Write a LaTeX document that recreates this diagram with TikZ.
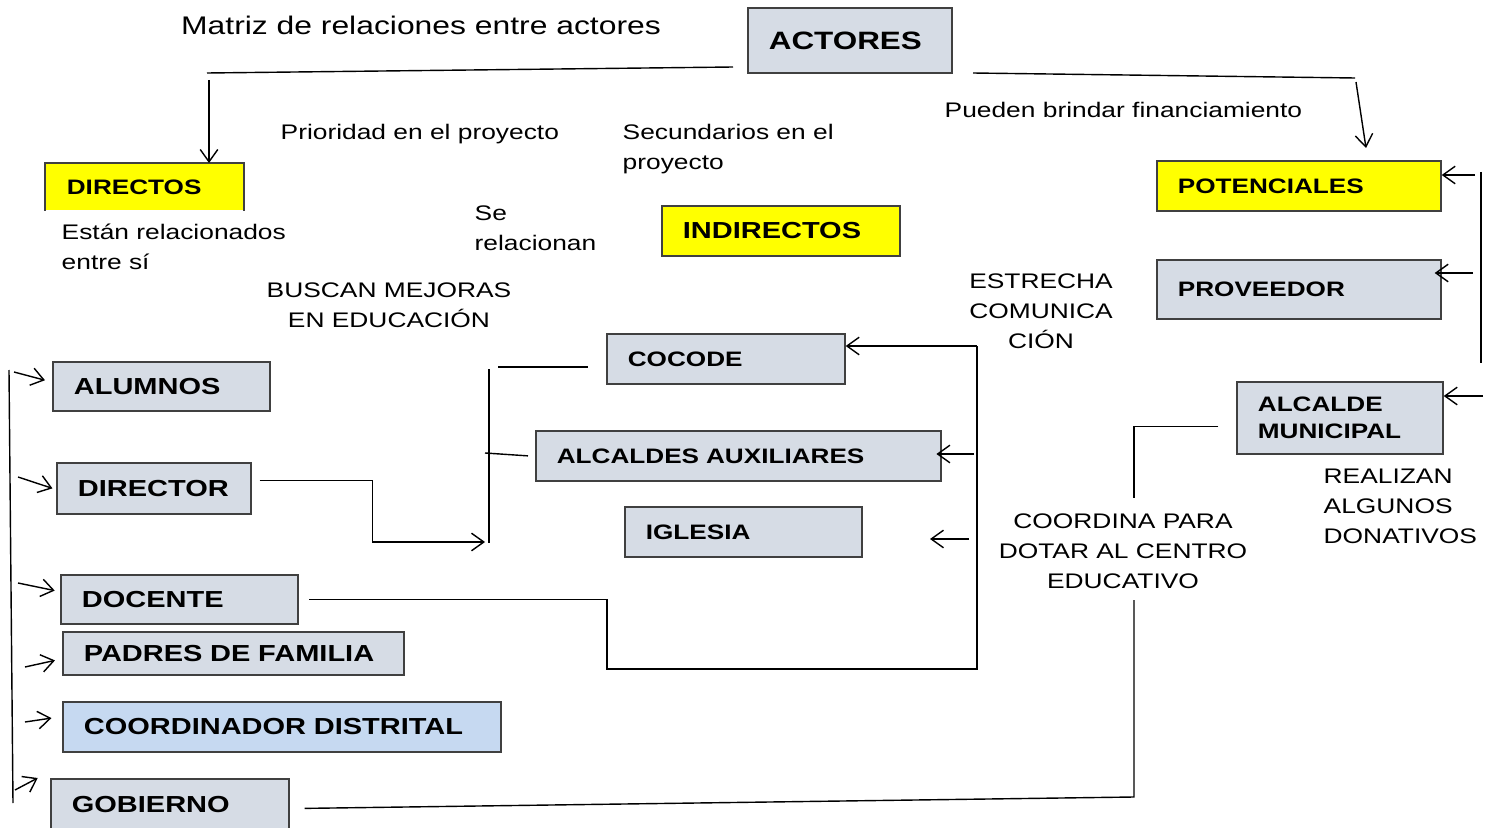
\documentclass[tikz,border=0pt]{standalone}
\usepackage{fontspec}
\setmainfont{Liberation Sans}[FakeStretch=1.25]
\usetikzlibrary{
  arrows.meta,
  positioning
}
\definecolor{boxfill}{HTML}{D6DCE5}
\definecolor{boxline}{HTML}{404040}
\definecolor{coordfill}{HTML}{C6D9F1}
\definecolor{yel}{HTML}{FFFF00}
\tikzset{
  >={Straight Barb[length=7pt,width=10pt]},
  actor/.style = {draw=boxline, fill=boxfill, line width=1pt, anchor=north west,
                  inner xsep=0.42cm, inner ysep=0pt, align=left,
                  font=\bfseries\fontsize{11.9}{15.3}\selectfont},
  bigactor/.style = {font=\bfseries\fontsize{13.2}{15.3}\selectfont},
  note/.style = {inner sep=0pt, font=\fontsize{12}{17}\selectfont},
}
\begin{document}
\begin{tikzpicture}[x=0.02cm, y=-0.02cm, line width=0.8pt]
\useasboundingbox (0,0) rectangle (1489,828);
\node[note, font=\fontsize{14.5}{17}\selectfont] (titulo) at (421,25) {Matriz de relaciones entre actores};

% cajas de arriba
\node[actor, text width=3.24cm, minimum height=1.30cm, font=\bfseries\fontsize{14.3}{17}\selectfont] (actores) at (747,7) {ACTORES};
\node[actor, fill=yel, draw=none, text width=3.10cm, minimum height=0.92cm] (directos) at (45,163) {DIRECTOS};
\draw[boxline, line width=1pt] (directos.south west) |- (directos.north east) -- (directos.south east);
\node[actor, fill=yel, bigactor, text width=3.92cm, minimum height=1cm] (indirectos) at (661,205) {INDIRECTOS};
\node[actor, fill=yel, text width=4.84cm, minimum height=1cm] (potenciales) at (1156,160) {POTENCIALES};
\node[actor, text width=4.84cm, minimum height=1.18cm] (proveedor) at (1156,259) {PROVEEDOR};
\node[actor, text width=3.28cm, minimum height=1.44cm] (alcalde) at (1236,381) {ALCALDE\\MUNICIPAL};

% indirectos
\node[actor, text width=3.92cm, minimum height=1cm] (cocode) at (606,333) {COCODE};
\node[actor, text width=7.26cm, minimum height=1cm] (auxiliares) at (535,430) {ALCALDES AUXILIARES};
\node[actor, text width=3.90cm, minimum height=1cm] (iglesia) at (624,506) {IGLESIA};

% directos
\node[actor, bigactor, text width=3.50cm, minimum height=0.98cm] (alumnos) at (52,361) {ALUMNOS};
\node[actor, bigactor, text width=3.04cm, minimum height=1.02cm] (director) at (56,462) {DIRECTOR};
\node[actor, bigactor, text width=3.90cm, minimum height=0.98cm] (docente) at (60,574) {DOCENTE};
\node[actor, bigactor, text width=5.98cm, minimum height=0.86cm] (padres) at (62,631) {PADRES DE FAMILIA};
\node[actor, bigactor, fill=coordfill, text width=7.92cm, minimum height=1cm] (coordinador) at (62,701) {COORDINADOR DISTRITAL};
\node[actor, bigactor, text width=3.92cm, minimum height=1.04cm] (gobierno) at (50,778) {GOBIERNO};

% textos
\node[note, anchor=west] (prioridad) at (280,134) {Prioridad en el proyecto};
\node[note, anchor=west, align=left] (secundarios) at (622,149) {Secundarios en el\\proyecto};
\node[note, anchor=west] (financia) at (944,110) {Pueden brindar financiamiento};
\node[note, anchor=west, align=left] (entresi) at (61,247) {Están relacionados\\entre sí};
\node[note, anchor=west, align=left] (serelacionan) at (474,228) {Se\\relacionan};
\node[note, align=center] (buscan) at (389,305) {BUSCAN MEJORAS\\EN EDUCACIÓN};
\node[note, align=center] (estrecha) at (1041,311) {ESTRECHA\\COMUNICA\\CIÓN};
\node[note, align=center] (coordina) at (1123,551) {COORDINA PARA\\DOTAR AL CENTRO\\EDUCATIVO};
\node[note, anchor=west, align=left] (donativos) at (1323,506) {REALIZAN\\ALGUNOS\\DONATIVOS};

% puntos sueltos
\coordinate (actL1) at (733,67);
\coordinate (actL2) at (207,73);
\coordinate (dirArr) at (209,80);
\coordinate (actR1) at (973,73);
\coordinate (actR2) at (1355,78);
\coordinate (potArr) at (1356,82);
\coordinate (potTip) at (1366,148);
\coordinate (rv1) at (1481,172);
\coordinate (rv2) at (1481,363);
\coordinate (rPot) at (1475,175);
\coordinate (rProv) at (1473,273);
\coordinate (rAlc) at (1483,396);
\coordinate (lv1) at (9,370);
\coordinate (lv2) at (13,803);
\coordinate (lAlu) at (14,372);
\coordinate (lDir) at (18,477);
\coordinate (lDoc) at (18,583);
\coordinate (lPad) at (25,667);
\coordinate (lCoo) at (25,722);
\coordinate (lGob) at (15,790);
\coordinate (mv1) at (489,369);
\coordinate (mv2) at (489,543);
\coordinate (midArr) at (485,542);
\coordinate (cc1) at (498,367);
\coordinate (cc2) at (588,367);
\coordinate (ax1) at (485,453);
\coordinate (loopTop) at (977,346);
\coordinate (loopBot) at (607,669);
\coordinate (rAux) at (974,454);
\coordinate (rIgl) at (969,539);
\coordinate (rIglTip) at (930,539);
\coordinate (co1) at (1134,498);
\coordinate (co2) at (1134,600);
\coordinate (co3) at (1134,797);

% conectores
\draw (actL1) -- (actL2);
\draw[->] (dirArr) -- (dirArr |- directos.north);
\draw (actR1) -- (actR2);
\draw[->] (potArr) -- (potTip);
\draw (rv1) -- (rv2);
\draw[->] (rPot) -- (rPot -| potenciales.east);
\draw[->] (rProv) -- ([xshift=-4pt]rProv -| proveedor.east);
\draw[->] (rAlc) -- (rAlc -| alcalde.east);
\draw (lv1) -- (lv2);
\draw[->] (lAlu) -- ([xshift=-4pt,yshift=3.5pt]alumnos.west);
\draw[->] (lDir) -- ([xshift=-2pt]director.west);
\draw[->] (lDoc) -- ([xshift=-3pt,yshift=5pt]docente.west);
\draw[->] (lPad) -- ([xshift=-4pt,yshift=-4pt]padres.west);
\draw[->] (lCoo) -- ([xshift=-6pt,yshift=5pt]coordinador.west);
\draw[->] (lGob) -- ([xshift=-7pt]gobierno.north west);
\draw[->] ([xshift=4.5pt,yshift=4.5pt]director.east) -- ++(113,0) |- (midArr);
\draw (mv1) -- (mv2);
\draw (cc1) -- (cc2);
\draw (ax1) -- ([xshift=-4pt]auxiliares.west);
\draw[->] (loopTop) -- (loopTop -| cocode.east);
\draw (loopTop) |- (loopBot) |- ([xshift=6pt]docente.east);
\draw[->] (rAux) -- ([xshift=-3pt]rAux -| auxiliares.east);
\draw[->] (rIgl) -- (rIglTip);
\draw ([xshift=-10pt,yshift=-5pt]alcalde.west) -| (co1);
\draw (co2) -- (co3) -- ([xshift=8.5pt,yshift=-2pt]gobierno.east);
\end{tikzpicture}
\end{document}
